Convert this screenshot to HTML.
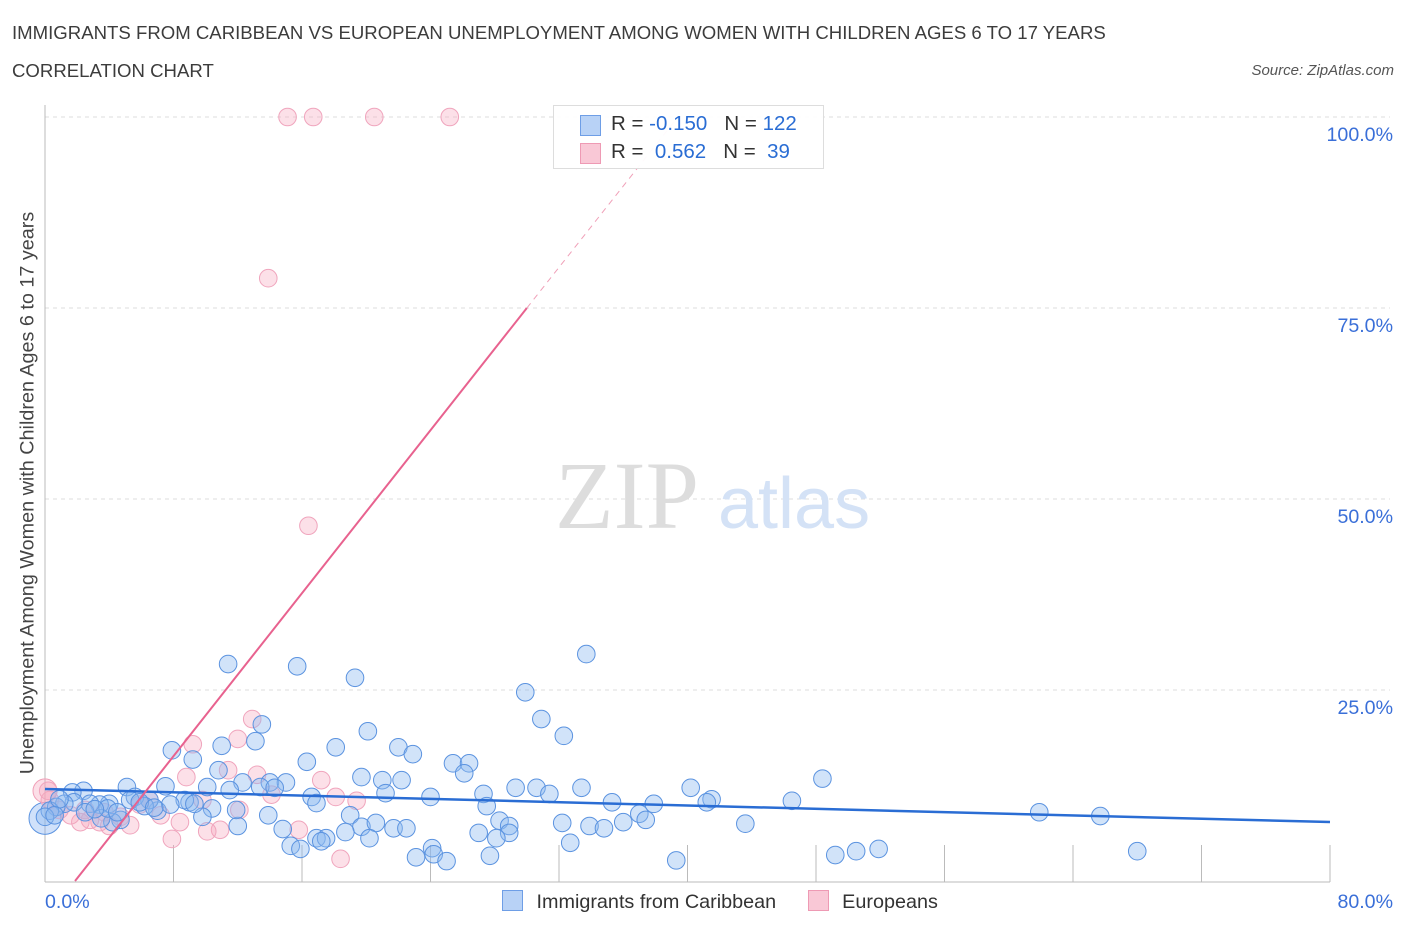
<!DOCTYPE html>
<html><head><meta charset="utf-8">
<style>
body{margin:0;background:#fff;font-family:"Liberation Sans",sans-serif;}
.t{position:absolute;}
</style></head>
<body>
<div style="position:relative;width:1406px;height:930px;overflow:hidden">
<div class="t" style="left:12px;top:22px;font-size:18.6px;color:#3c3c3c">IMMIGRANTS FROM CARIBBEAN VS EUROPEAN UNEMPLOYMENT AMONG WOMEN WITH CHILDREN AGES 6 TO 17 YEARS</div>
<div class="t" style="left:12px;top:60px;font-size:18.6px;color:#3c3c3c">CORRELATION CHART</div>
<div class="t" style="right:12px;top:62px;font-size:15px;color:#555;font-style:italic">Source: ZipAtlas.com</div>
<svg id="svg" width="1406" height="930" style="position:absolute;left:0;top:0"></svg>
</div>
<script>
const blueX=[11.4,15.7,19.3,33.7,29.9,30.9,32.3,20.1,13.5,7.9,9.2,11.0,13.1,18.1,22.0,22.9,16.3,25.4,26.4,26.1,19.7,21.0,22.2,10.8,12.3,14.0,15.0,10.1,5.1,7.5,2.4,1.7,29.3,30.6,33.4,40.2,48.4,46.5,41.5,41.2,37.9,35.3,31.4,27.3,27.5,24.0,16.6,16.9,21.2,19.0,19.7,20.6,21.7,22.5,18.7,20.2,14.8,16.9,17.5,17.2,15.3,15.9,24.1,23.1,24.2,25.0,27.7,28.3,28.9,28.9,27.0,28.1,32.2,33.9,34.8,36.0,37.0,37.4,32.7,39.3,43.6,61.9,65.7,68.0,51.9,50.5,49.2,13.9,12.0,10.4,9.0,9.8,7.0,6.5,5.6,4.0,3.4,2.8,1.8,1.2,0.7,0.3,0,6.2,4.7,4.2,3.5,13.4,14.3,5.3,5.9,8.7,7.8,9.3,3.9,0.9,0.6,2.5,3.1,4.5,11.5,11.9,6.8];
const blueY=[28.4,28.1,26.6,29.7,24.7,21.2,19.0,19.6,20.5,17.1,15.9,17.7,18.3,17.5,17.5,16.6,15.6,15.4,15.4,14.1,13.6,13.2,13.2,14.5,12.9,12.9,12.9,12.3,12.3,12.4,11.8,11.6,12.2,12.2,12.2,12.2,13.4,10.5,10.7,10.3,10.1,10.3,11.4,11.4,9.8,11.0,11.0,10.2,11.5,8.6,7.1,7.6,6.9,6.9,6.4,5.6,6.8,5.6,5.6,5.2,4.6,4.2,4.3,3.1,3.5,2.6,3.3,7.9,7.2,6.3,6.3,5.6,7.6,7.2,6.9,7.7,8.8,8.0,5.0,2.7,7.5,9.0,8.5,3.9,4.2,3.9,3.4,8.6,7.2,9.5,10.3,8.4,9.2,10.6,11.0,10.1,10.0,10.1,10.3,10.1,9.7,9.2,8.4,9.8,8.0,7.7,8.2,12.3,12.2,10.6,10.3,10.6,10.0,10.1,9.5,10.7,8.6,9.0,9.4,9.0,11.9,9.3,9.6];
const pinkX=[15.1,16.7,20.5,25.2,13.9,16.4,12.9,12.0,9.2,11.4,13.2,17.2,14.1,18.1,19.4,8.8,9.8,12.1,15.8,10.9,10.1,7.9,18.4,6.5,5.3,4.0,3.4,2.8,2.2,1.6,0.9,0.3,0.2,4.7,7.2,8.4,3.7,2.5,5.9];
const pinkY=[100,100,100,100,78.9,46.5,21.2,18.6,17.9,14.5,13.9,13.2,11.3,11.0,10.5,13.6,10.6,9.3,6.7,6.7,6.5,5.5,2.9,10.6,7.3,7.2,7.7,8.0,7.7,8.6,9.3,10.6,11.8,8.4,8.6,7.7,9.0,9.3,10.0];
const xTicks=["0.0%","80.0%"];
const yTicks=[25,50,75,100];
const blueTrend=[12.04,7.72];
const pinkTrendX=[1.87,30,39.4];
const pinkTrendY=[0,75,100];

const X=v=>45+v/80*1285, Y=v=>881-v*7.64;
const svg=document.getElementById('svg'),NS='http://www.w3.org/2000/svg';
function mk(tag,a,name){const e=document.createElementNS(NS,tag);for(const k in a)e.setAttribute(k,a[k]);


svg.appendChild(e);return e;}
yTicks.forEach(v=>{mk('line',{x1:45,x2:1390,y1:Y(v),y2:Y(v),stroke:'#ddd','stroke-dasharray':'4,4'},'gridline');
const t=mk('text',{x:1393,y:Y(v)+24,'text-anchor':'end','font-size':19.6,fill:'#3a6fd8','font-family':'Liberation Sans'},'y-tick-label');t.textContent=v.toFixed(1)+'%';});
mk('line',{x1:45,x2:45,y1:105,y2:882,stroke:'#bbb'},'y-axis');
mk('line',{x1:45,x2:1330,y1:882,y2:882,stroke:'#bbb'},'x-axis');
for(let i=1;i<=10;i++)mk('line',{x1:X(i*8),x2:X(i*8),y1:845,y2:882,stroke:'#bbb'},'x-tick');
let t=mk('text',{x:45,y:908,'font-size':19.6,fill:'#3a6fd8','font-family':'Liberation Sans'},'x-tick-label');t.textContent=xTicks[0];
t=mk('text',{x:1393,y:908,'text-anchor':'end','font-size':19.6,fill:'#3a6fd8','font-family':'Liberation Sans'},'x-tick-label');t.textContent=xTicks[1];
t=mk('text',{x:555,y:528,'font-size':96,fill:'#ddd','font-family':'Liberation Serif'},'watermark-zip');t.textContent='ZIP';
t=mk('text',{x:718,y:528,'font-size':72,fill:'#d4e2f6','font-family':'Liberation Sans'},'watermark-atlas');t.textContent='atlas';
mk('circle',{cx:X(0),cy:Y(8.2),r:16,fill:'rgba(120,170,240,0.35)',stroke:'#5b93e0'},'blue-point');
mk('circle',{cx:X(0),cy:Y(11.8),r:12,fill:'rgba(245,160,185,0.35)',stroke:'#f0a0b8'},'pink-point');
pinkX.forEach((x,i)=>mk('circle',{cx:X(x),cy:Y(pinkY[i]),r:8.8,fill:'rgba(245,165,190,0.35)',stroke:'#f0a5bd','stroke-width':1},'pink-point'));
blueX.forEach((x,i)=>mk('circle',{cx:X(x),cy:Y(blueY[i]),r:8.8,fill:'rgba(140,185,240,0.4)',stroke:'#5b93e0','stroke-width':1},'blue-point'));
mk('line',{x1:X(0),y1:Y(blueTrend[0]),x2:X(80),y2:Y(blueTrend[1]),stroke:'#2a6dd4','stroke-width':2.5},'blue-trend-line');
mk('line',{x1:X(pinkTrendX[0]),y1:Y(pinkTrendY[0]),x2:X(pinkTrendX[1]),y2:Y(pinkTrendY[1]),stroke:'#e8628f','stroke-width':2},'pink-trend-line');
mk('line',{x1:X(pinkTrendX[1]),y1:Y(pinkTrendY[1]),x2:X(pinkTrendX[2]),y2:Y(pinkTrendY[2]),stroke:'#f0a0b8','stroke-width':1,'stroke-dasharray':'6,5'},'pink-trend-dashed');
</script>
<div class="t" style="left:553px;top:105px;width:269px;height:62px;border:1px solid #ddd;background:rgba(255,255,255,0.95);font-size:20.5px;color:#333">
<div style="position:absolute;left:26px;top:9px;width:19px;height:19px;background:#b8d2f6;border:1px solid #6e9ee6"></div>
<div style="position:absolute;left:57px;top:6px;white-space:pre">R = <span style="color:#2a6dd4">-0.150</span>   N = <span style="color:#2a6dd4">122</span></div>
<div style="position:absolute;left:26px;top:37px;width:19px;height:19px;background:#f9c8d6;border:1px solid #ee9ab4"></div>
<div style="position:absolute;left:57px;top:34px;white-space:pre">R =  <span style="color:#2a6dd4">0.562</span>   N =  <span style="color:#2a6dd4">39</span></div>
</div>
<div class="t" style="left:28px;top:493px;font-size:19.8px;color:#444;transform:translate(-50%,-50%) rotate(-90deg);white-space:nowrap">Unemployment Among Women with Children Ages 6 to 17 years</div>
<div class="t" style="left:502px;top:890px;font-size:19.8px;color:#333;white-space:nowrap">
<span style="display:inline-block;width:19px;height:19px;background:#b8d2f6;border:1px solid #6e9ee6;vertical-align:-3px"></span>
<span style="margin-left:8px">Immigrants from Caribbean</span>
<span style="display:inline-block;width:19px;height:19px;background:#f9c8d6;border:1px solid #ee9ab4;vertical-align:-3px;margin-left:26px"></span>
<span style="margin-left:8px">Europeans</span>
</div>
</body></html>
